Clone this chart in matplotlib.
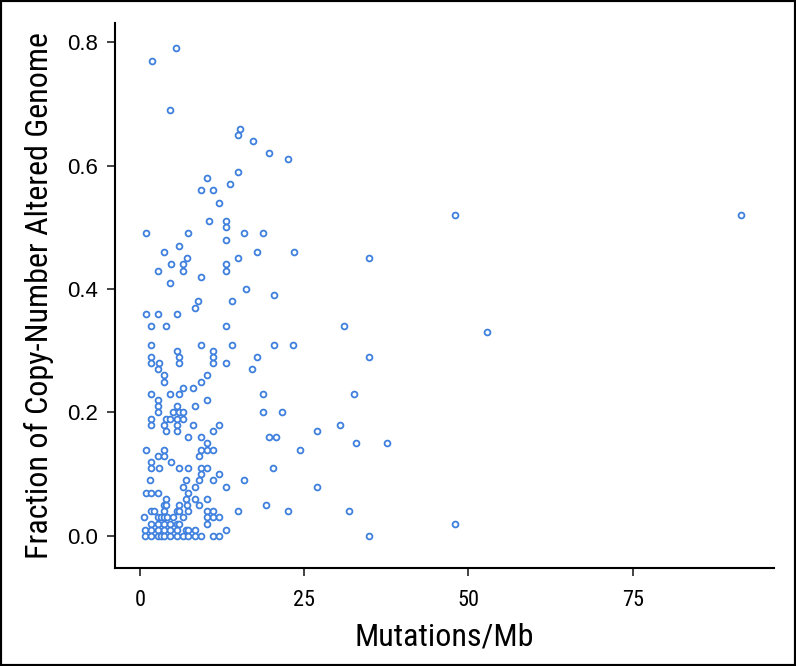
import matplotlib
matplotlib.use("Agg")
import matplotlib.pyplot as plt
from matplotlib import font_manager
from matplotlib.patches import Rectangle

# ----------------------------- data -----------------------------
# each CNA level (fraction of copy-number altered genome) with the Mutations/Mb values at it
cna_levels = [0.79, 0.77, 0.69, 0.66, 0.65, 0.64, 0.62, 0.61, 0.59, 0.58, 0.57, 0.56,
              0.54, 0.52, 0.51, 0.50, 0.49, 0.48, 0.47, 0.46, 0.45, 0.44, 0.43, 0.42,
              0.41, 0.40, 0.39, 0.38, 0.37, 0.36, 0.34, 0.33, 0.31, 0.30, 0.29, 0.28,
              0.27, 0.26, 0.25, 0.24, 0.23, 0.22, 0.21, 0.20, 0.19, 0.18, 0.17, 0.16,
              0.15, 0.14, 0.13, 0.12, 0.11, 0.10, 0.09, 0.08, 0.07, 0.06, 0.05, 0.04,
              0.03, 0.02, 0.01, 0.00]
mut_at_level = [
    [5.5], [1.9], [4.6], [15.2], [14.9], [17.2], [19.6], [22.5], [14.9], [10.2], [13.8],
    [9.3, 11.2],
    [12.1],
    [48.0, 91.5],
    [10.5, 13.1],
    [13.1],
    [0.9, 7.4, 15.9, 18.75],
    [13.1],
    [6.0],
    [3.7, 17.8, 23.4],
    [7.2, 14.9, 34.8],
    [4.8, 6.5, 13.1],
    [2.7, 6.5, 13.1],
    [9.3],
    [4.6],
    [16.2],
    [20.4],
    [8.9, 14.0],
    [8.4],
    [0.9, 2.7, 5.6],
    [1.75, 4.0, 13.1, 31.0],
    [52.8],
    [1.75, 9.3, 14.0, 20.4, 23.3],
    [5.6, 11.2],
    [1.75, 6.0, 11.2, 17.8, 34.8],
    [1.75, 2.9, 6.0, 11.2, 13.1],
    [2.7, 17.0],
    [3.7, 10.2],
    [3.7, 9.3],
    [6.5, 8.05],
    [1.75, 4.6, 6.0, 18.75, 32.6],
    [2.7, 10.2],
    [2.7, 5.6, 8.4],
    [2.7, 5.05, 6.0, 6.5, 18.75, 21.6],
    [1.75, 4.0, 4.6, 5.6, 6.5],
    [1.75, 3.7, 5.6, 8.05, 12.1, 30.5],
    [4.0, 5.6, 11.2, 26.9],
    [7.4, 9.3, 19.7, 20.7],
    [10.2, 32.9, 37.6],
    [0.9, 3.7, 9.3, 10.2, 11.2, 24.4],
    [2.7, 3.7, 9.0],
    [1.75, 4.8],
    [1.75, 2.9, 6.0, 7.4, 9.3, 10.2, 20.3],
    [9.3, 12.1],
    [1.55, 7.0, 9.0, 11.2, 15.9],
    [6.5, 8.4, 13.1, 26.9],
    [0.9, 1.75, 2.7, 7.4],
    [4.0, 7.0, 8.4, 10.2],
    [3.7, 4.0, 6.0, 7.2, 9.0, 19.25],
    [1.75, 2.2, 3.7, 5.6, 6.0, 7.4, 10.2, 11.2, 14.9, 22.5, 31.9],
    [0.65, 2.7, 3.2, 3.7, 4.2, 5.1, 6.5, 10.2, 11.2, 12.1],
    [1.75, 2.7, 3.7, 4.6, 5.6, 6.0, 10.2, 48.0],
    [0.75, 1.75, 2.7, 3.7, 4.6, 5.6, 7.0, 7.4, 8.4, 13.1],
    [0.75, 1.75, 2.7, 3.2, 3.7, 4.6, 5.6, 6.5, 7.4, 8.4, 9.3, 11.2, 12.1, 34.8],
]
x_ticks = [0, 25, 50, 75]
y_ticks = [0.0, 0.2, 0.4, 0.6, 0.8]
x_label = "Mutations/Mb"
y_label = "Fraction of Copy-Number Altered Genome"

POINT_COLOR = "#3f80de"


def pick_narrow():
    """Condensed face for the axis titles if one is installed."""
    names = {f.name for f in font_manager.fontManager.ttflist}
    for cand in ["Liberation Sans Narrow", "Roboto Condensed", "Open Sans Condensed"]:
        if cand in names:
            return cand
    return "Liberation Sans"


def main():
    xs, ys = [], []
    for level, vals in zip(cna_levels, mut_at_level):
        xs.extend(vals)
        ys.extend([level] * len(vals))

    narrow = pick_narrow()
    fig = plt.figure(figsize=(7.96, 6.66), dpi=100)
    ax = fig.add_axes([0.1445, 0.1471, 0.9724 - 0.1445, 0.9655 - 0.1471])

    ax.plot(xs, ys, ls="none", marker="o", ms=4.2, mfc="white",
            mec=POINT_COLOR, mew=1.3)

    ax.set_xlim(-3.77, 96.5)
    ax.set_ylim(-0.052, 0.831)
    ax.set_xticks(x_ticks)
    ax.set_yticks(y_ticks)
    ax.set_yticklabels([f"{v:.1f}" for v in y_ticks], family="Liberation Sans",
                       fontsize=16)
    ax.set_xticklabels([str(v) for v in x_ticks], family=narrow, fontsize=16)

    for side in ["top", "right"]:
        ax.spines[side].set_visible(False)
    for side in ["left", "bottom"]:
        ax.spines[side].set_linewidth(1.5)
    ax.tick_params(axis="both", length=6, width=1.2, color="#222222")
    ax.tick_params(axis="x", pad=10)
    ax.tick_params(axis="y", pad=6)

    ax.set_xlabel(x_label, family=narrow, fontsize=23, labelpad=8)
    ax.set_ylabel(y_label, family=narrow, fontsize=23, labelpad=10)

    # black frame around the whole figure
    fig.patches.append(Rectangle((0, 0), 1, 1, transform=fig.transFigure,
                                 fill=False, lw=3, edgecolor="black"))
    fig.savefig("out.png", dpi=100)


if __name__ == "__main__":
    main()
